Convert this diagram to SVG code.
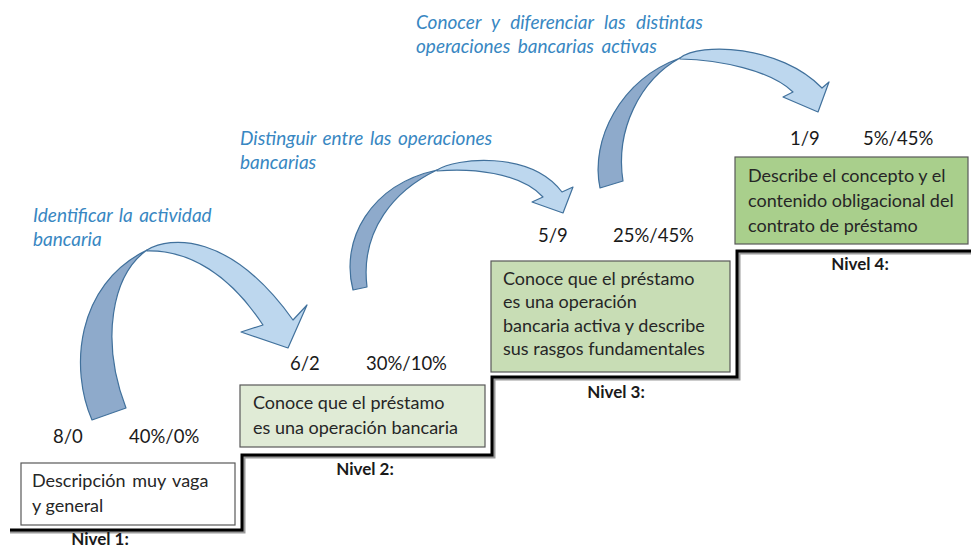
<svg xmlns="http://www.w3.org/2000/svg" width="971" height="549" viewBox="0 0 971 549">
<style>
.bg{fill:#ffffff}
.dark{fill:#8eaacb;stroke:#41719c;stroke-width:1.2;stroke-linejoin:round}
.light{fill:#bdd7ee;stroke:#41719c;stroke-width:1.2;stroke-linejoin:round}
.box{stroke:#595959;stroke-width:1.2}
.b1{fill:#ffffff}
.b2{fill:#e0ebd6}
.b3{fill:#c8ddb5}
.b4{fill:#a9cf8c}
.t{font-family:Lato,"Liberation Sans",sans-serif;font-size:18px;fill:#262626}
.n{font-family:Lato,"Liberation Sans",sans-serif;font-size:18.5px;fill:#1a1a1a}
.i{font-family:Lato,"Liberation Sans",sans-serif;font-size:19px;font-style:italic;fill:#3887c2}
.lv{font-family:Lato,"Liberation Sans",sans-serif;font-size:17px;font-weight:bold;fill:#1a1a1a;text-anchor:middle}
.stair{fill:none;stroke:#000;stroke-width:3;stroke-linejoin:miter}
.shadow{fill:none;stroke:#9a9a9a;stroke-width:3;stroke-linejoin:miter}
</style>
<rect class="bg" x="0" y="0" width="971" height="549"/>
<g id="connectors">
  <g id="arrow1">
    <path class="dark" d="M92 420 C70 370 75 285 147 250 C112 275 100 340 126 408 Z"/>
    <path class="light" d="M147 250 C170 236 230 232 293 320 L307 305 L288 348 L241 332 L263 325 C230 275 190 250 147 251 Z"/>
  </g>
  <g id="arrow2">
    <path class="dark" d="M353 290 C340 240 370 185 437 170 C395 190 360 230 367 287 Z"/>
    <path class="light" d="M437 170 C455 158 530 150 562 192 L573 187 L563 213 L532 202 L543 197 C520 172 470 168 437 171 Z"/>
  </g>
  <g id="arrow3">
    <path class="dark" d="M600 188 C590 140 620 80 680 58 C640 80 615 130 623 181 Z"/>
    <path class="light" d="M680 58 C700 42 780 45 822 88 L829 82 L818 112 L783 97 L793 92 C770 70 720 60 680 59 Z"/>
  </g>
  <g id="stairs">
    <polyline class="shadow" points="10,532 244,532 244,457 494,457 494,379 739,379 739,253 971,253"/>
    <polyline class="stair" points="10,530 242,530 242,455 492,455 492,377 737,377 737,251 971,251"/>
  </g>
</g>
<g id="label1">
  <text class="i" x="33" y="222" word-spacing="2">Identificar la actividad</text>
  <text class="i" x="33" y="246">bancaria</text>
</g>
<g id="label2">
  <text class="i" x="240" y="145" word-spacing="2">Distinguir entre las operaciones</text>
  <text class="i" x="240" y="169">bancarias</text>
</g>
<g id="label3">
  <text class="i" x="416" y="29" word-spacing="6">Conocer y diferenciar las distintas</text>
  <text class="i" x="416" y="53" word-spacing="3">operaciones bancarias activas</text>
</g>
<g id="nivel1">
  <text class="n" x="53" y="443">8/0</text>
  <text class="n" x="129" y="443">40%/0%</text>
  <rect class="box b1" x="21" y="463" width="214" height="62"/>
  <text class="t" x="32" y="487" word-spacing="2">Descripción muy vaga</text>
  <text class="t" x="32" y="512">y general</text>
  <text class="lv" x="100" y="545">Nivel 1:</text>
</g>
<g id="nivel2">
  <text class="n" x="290" y="370">6/2</text>
  <text class="n" x="366" y="370">30%/10%</text>
  <rect class="box b2" x="240" y="385" width="245" height="62"/>
  <text class="t" x="253" y="409">Conoce que el préstamo</text>
  <text class="t" x="253" y="434">es una operación bancaria</text>
  <text class="lv" x="365" y="475">Nivel 2:</text>
</g>
<g id="nivel3">
  <text class="n" x="538" y="242">5/9</text>
  <text class="n" x="613" y="242">25%/45%</text>
  <rect class="box b3" x="491" y="261" width="239" height="111"/>
  <text class="t" x="503" y="285">Conoce que el préstamo</text>
  <text class="t" x="503" y="308">es una operación</text>
  <text class="t" x="503" y="332">bancaria activa y describe</text>
  <text class="t" x="503" y="355">sus rasgos fundamentales</text>
  <text class="lv" x="616" y="398">Nivel 3:</text>
</g>
<g id="nivel4">
  <text class="n" x="790" y="145">1/9</text>
  <text class="n" x="863" y="145">5%/45%</text>
  <rect class="box b4" x="735" y="157" width="233" height="87"/>
  <text class="t" x="748" y="182">Describe el concepto y el</text>
  <text class="t" x="748" y="207">contenido obligacional del</text>
  <text class="t" x="748" y="232">contrato de préstamo</text>
  <text class="lv" x="860" y="270">Nivel 4:</text>
</g>
</svg>
